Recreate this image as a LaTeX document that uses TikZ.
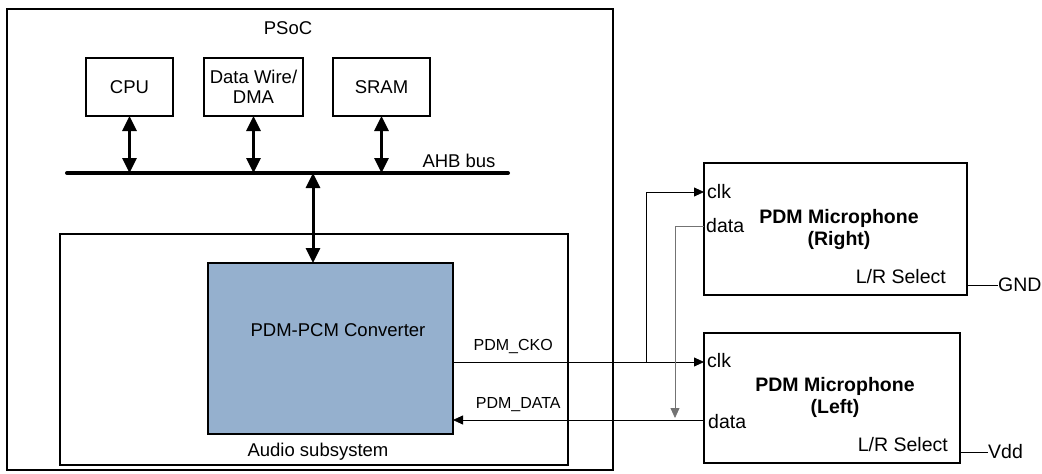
\documentclass[tikz,border=0pt]{standalone}
\usepackage{fontspec}
\setmainfont{Liberation Sans}
\usetikzlibrary{arrows.meta, calc}

\begin{document}
\begin{tikzpicture}[x=1pt,y=-1pt,
  box/.style={draw,line width=1.3pt,inner sep=0pt,outer sep=0pt,font=\fontsize{18.5}{20}\selectfont},
  txt/.style={inner sep=0pt,font=\fontsize{18.5}{20}\selectfont},
  small/.style={inner sep=0pt,font=\fontsize{16}{18}\selectfont},
  port/.style={inner sep=0pt,font=\fontsize{19.5}{22}\selectfont},
  bigarrow/.style={line width=3pt,{Triangle[length=15pt,width=14pt]}-{Triangle[length=15pt,width=14pt]}},
  wire/.style={line width=0.8pt},
  sig/.style={wire,-{Triangle[length=10pt,width=9pt]}}]
\useasboundingbox (0,0) rectangle (1042,474);
% PSoC and its blocks
\node[box,minimum width=606,minimum height=461] (psoc) at (310,239.5) {};
\node[txt] (psoclabel) at (288,28) {PSoC};
\node[box,minimum width=87,minimum height=58] (cpu) at (129.5,87) {CPU};
\node[box,minimum width=99,minimum height=58,align=center] (dma) at (253.5,87) {Data Wire/\\DMA};
\node[box,minimum width=97,minimum height=58] (sram) at (381.5,87) {SRAM};
% AHB bus
\coordinate (busl) at (67,173);
\coordinate (busr) at (508,173);
\draw[line width=4pt,line cap=round] (busl) -- (busr);
\node[txt] (ahb) at (459,161) {AHB bus};
\foreach \blk in {cpu,dma,sram}
  \draw[bigarrow] (\blk.south) -- (\blk.south |- busl);
% Audio subsystem
\node[box,minimum width=508,minimum height=231] (audio) at (314,349.5) {};
\node[txt] (audiolabel) at (318,452) {Audio subsystem};
\node[box,fill={rgb,255:red,149;green,176;blue,206},minimum width=245,minimum height=171] (conv) at (330.5,348.5) {};
\node[txt] (convlabel) at (338,330) {PDM-PCM Converter};
\coordinate (tap) at (313,173);
\draw[bigarrow] (tap) -- (tap |- conv.north);
% Microphones
\node[box,minimum width=263,minimum height=132] (micR) at (835.5,229) {};
\node[port,font=\fontsize{19.5}{22}\selectfont\bfseries,align=center] (micRlabel) at (839,229) {PDM Microphone\\(Right)};
\node[port,anchor=west] (clkR) at (707,192) {clk};
\node[port,anchor=west] (dataR) at (706,226) {data};
\node[port,anchor=east] (lrR) at (946,277) {L/R Select};
\node[port,anchor=west] (gnd) at (998,285) {GND};
\node[box,minimum width=256,minimum height=130] (micL) at (832,398) {};
\node[port,font=\fontsize{19.5}{22}\selectfont\bfseries,align=center] (micLlabel) at (835,397) {PDM Microphone\\(Left)};
\node[port,anchor=west] (clkL) at (707,361) {clk};
\node[port,anchor=west] (dataL) at (708,422) {data};
\node[port,anchor=east] (lrL) at (948,445) {L/R Select};
\node[port,anchor=west] (vdd) at (988,452) {Vdd};
\draw[wire] (micR.east |- gnd) -- (gnd.west);
\draw[wire] (micL.east |- vdd) -- (vdd.west);
% Clock and data lines
\coordinate (split) at (646,362);
\coordinate (join) at (675,420);
\draw[sig] (conv.east |- split) -- node[small,above=8pt,pos=0.24] (cko) {PDM\_CKO} (micL.west |- split);
\draw[sig] (split) |- (micR.west |- clkR);
\draw[sig] (micL.west |- join) -- node[small,above=8pt,pos=0.74] (pdmdata) {PDM\_DATA} (conv.east |- join);
\draw[sig,draw=black!55,shorten >=2pt] (micR.west |- dataR) -| (join);
\end{tikzpicture}
\end{document}
